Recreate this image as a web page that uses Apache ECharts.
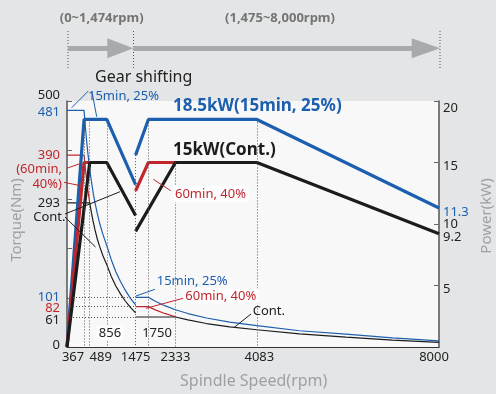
<!DOCTYPE html>
<html>
<head>
<meta charset="utf-8">
<script src="https://cdn.jsdelivr.net/npm/echarts@6.0.0/dist/echarts.min.js"></script>
<style>
html, body { margin: 0; padding: 0; background: #e4e5e6; }
#chart { width: 496px; height: 394px; }
</style>
</head>
<body>
<div id="chart"></div>
<script>
// axis ticks / labels
const speedTicks = [367, 489, 1475, 2333, 4083, 8000];
const torqueTicks = [0, 61, 82, 101, 293, 390, 481, 500];
const torqueMinorTicks = [100, 200, 300, 400, 500];
const powerTicks = [5, 9.2, 10, 11.3, 15, 20];
const powerMinorTicks = [5, 10, 15, 20];

// guide lines (rpm, top power in kW)
const guideRpm = [367, 489, 856, 1475, 1750, 2333, 4083];
const guideTop = [18.5, 18.5, 18.5, 15.6, 18.5, 15, 18.5];
const torqueGuides = [101, 82, 61];

// power (kW) - low gear / high gear
const pow15Low = [[0, 0], [367, 18.5], [856, 18.5], [1475, 13.2]];
const pow15High = [[1475, 15.6], [1750, 18.5], [4083, 18.5], [8000, 11.3]];
const pow60Low = [[0, 0], [367, 15], [856, 15]];
const pow60High = [[1475, 12.7], [1750, 15], [2333, 15]];
const powContLow = [[0, 0], [489, 15], [856, 15], [1475, 10.7]];
const powContHigh = [[1475, 9.4], [2333, 15], [4083, 15], [8000, 9.2]];

// torque (Nm) - low gear / high gear
const tq15Low = [[0, 481], [367, 481], [380, 465], [400, 442], [425, 416], [450, 393], [489, 361],
    [525, 336], [560, 315], [600, 294], [650, 272], [700, 252], [775, 228], [856, 206],
    [950, 178], [1050, 153], [1150, 133], [1250, 116], [1350, 101], [1475, 85.5]];
const tq15High = [[1475, 101], [1750, 101], [1900, 93], [2100, 84], [2333, 75.7], [2600, 68],
    [3000, 59], [3500, 50.5], [4083, 43.3], [5000, 33], [6000, 26], [7000, 18.5], [8000, 12.5]];
const tq60Low = [[0, 390], [367, 390], [380, 377], [400, 358], [425, 337], [450, 318], [489, 293]];
const tq60High = [[1475, 82], [1750, 82], [1900, 75.4], [2100, 68.2], [2333, 61.4]];
const tqContLow = [[0, 293], [489, 293], [525, 273], [560, 256], [600, 239], [650, 220], [700, 205],
    [775, 185], [856, 167], [950, 144], [1050, 124], [1150, 108], [1250, 94], [1350, 82], [1475, 69.3]];
const tqContHigh = [[1475, 61], [2333, 61], [2600, 55.1], [3000, 47.7], [3500, 40.9], [4083, 35.1],
    [5000, 26.5], [6000, 20], [7000, 14], [8000, 9.5]];

const FONT = '"Noto Sans"';
const BLUE = '#1c5fae';
const RED = '#c0272d';
const BLACK = '#1c1c1c';
const TXT = '#222';
const AXNAME = '#9ca1a6';

const chart = echarts.init(document.getElementById('chart'));

const thin = (data, color, yi) => ({
    type: 'line', data: data, yAxisIndex: yi, symbol: 'none', silent: true, z: 2,
    lineStyle: { color: color, width: 1.2 }
});
const thick = (data, color) => ({
    type: 'line', data: data, yAxisIndex: 1, symbol: 'none', silent: true, z: 3,
    lineStyle: { color: color, width: 3.2, cap: 'butt' }
});

const dotted = { color: '#555', width: 1, type: [1, 2] };

const text = (t, x, y, opts) => Object.assign({
    type: 'text', silent: true, z: 10,
    style: Object.assign({ text: t, x: x, y: y, font: '13px ' + FONT, fill: TXT, align: 'left', verticalAlign: 'middle' }, opts || {})
});
const leader = (x1, y1, x2, y2, color) => ({
    type: 'line', silent: true, z: 10,
    shape: { x1: x1, y1: y1, x2: x2, y2: y2 },
    style: { stroke: color, lineWidth: 1 }
});
const vdot = (x, y1, y2) => ({
    type: 'line', silent: true, shape: { x1: x, y1: y1, x2: x, y2: y2 },
    style: { stroke: '#555', lineWidth: 1, lineDash: [1, 2] }
});
const arrow = (x0, xh, xt) => ([
    { type: 'rect', silent: true, shape: { x: x0, y: 46, width: xh - x0 + 2, height: 5 }, style: { fill: '#a9aaac' } },
    { type: 'polygon', silent: true, shape: { points: [[xh, 38.3], [xt, 48.3], [xh, 58.3]] }, style: { fill: '#a9aaac' } }
]);

const torqueColor = { 481: BLUE, 390: RED, 101: BLUE, 82: RED };
const torquePad = { 500: [0, 0, 12, 0], 481: [4, 0, 0, 0], 82: [4, 0, 0, 0], 61: [6, 0, 0, 0], 0: [0, 0, 4, 0] };
const torqueRich = {};
torqueTicks.forEach(v => {
    torqueRich['t' + v] = { color: torqueColor[v] || TXT, padding: torquePad[v] || [0, 0, 0, 0], fontSize: 13, fontFamily: FONT };
});

const powerPad = { 20: [14, 0, 0, 0], 15: [8, 0, 0, 0], 11.3: [8, 0, 0, 0], 10: [0, 0, 0, 0], 9.2: [6, 0, 0, 0], 5: [7, 0, 0, 0] };
const powerRich = {};
powerTicks.forEach(v => {
    powerRich['p' + String(v).replace('.', '_')] = { color: v === 11.3 ? BLUE : TXT, padding: powerPad[v], fontSize: 13, fontFamily: FONT };
});

const speedPad = { 367: [0, 22, 0, 0], 489: [0, 0, 0, 22], 4083: [0, 0, 0, 5], 8000: [0, 10, 0, 0] };
const speedRich = {};
speedTicks.forEach(v => {
    speedRich['s' + v] = { color: TXT, padding: speedPad[v] || [0, 0, 0, 0], fontSize: 13, fontFamily: FONT };
});

const option = {
    backgroundColor: '#e4e5e6',
    animation: false,
    grid: { left: 67, right: 57, top: 101, bottom: 47, show: true, backgroundColor: '#f8f8f8', borderWidth: 0 },
    xAxis: {
        type: 'value', min: 0, max: 8000,
        axisLine: { lineStyle: { color: '#333', width: 1 } },
        axisTick: { show: false },
        splitLine: { show: false },
        axisLabel: {
            customValues: speedTicks, margin: 4, fontSize: 13, fontFamily: FONT, color: TXT,
            formatter: v => '{s' + v + '|' + v + '}', rich: speedRich
        }
    },
    yAxis: [
        {
            type: 'value', min: 0, max: 500, position: 'left',
            axisLine: { show: true, lineStyle: { color: '#555', width: 1.5 } },
            axisTick: { show: true, inside: true, length: 5, customValues: torqueMinorTicks, lineStyle: { color: '#666' } },
            splitLine: { show: false },
            axisLabel: {
                customValues: torqueTicks, margin: 7, fontSize: 13, fontFamily: FONT, color: TXT,
                formatter: v => '{t' + v + '|' + v + '}', rich: torqueRich
            }
        },
        {
            type: 'value', min: 0, max: 20, position: 'right',
            axisLine: { show: true, lineStyle: { color: '#555', width: 1.5 } },
            axisTick: { show: true, inside: true, length: 5, customValues: powerMinorTicks, lineStyle: { color: '#666' } },
            splitLine: { show: false },
            axisLabel: {
                customValues: powerTicks, margin: 4, fontSize: 13, fontFamily: FONT, color: TXT,
                formatter: v => '{p' + String(v).replace('.', '_') + '|' + v + '}', rich: powerRich
            }
        }
    ],
    series: [
        {
            // guide lines only
            type: 'line', data: [], yAxisIndex: 1, symbol: 'none', silent: true, z: 1,
            markLine: {
                silent: true, symbol: 'none', label: { show: false }, lineStyle: dotted,
                data: guideRpm.map((r, i) => [{ coord: [r, guideTop[i]] }, { coord: [r, 0] }])
            }
        },
        {
            type: 'line', data: [], yAxisIndex: 0, symbol: 'none', silent: true, z: 1,
            markLine: {
                silent: true, symbol: 'none', label: { show: false }, lineStyle: dotted,
                data: torqueGuides.map(t => [{ coord: [0, t] }, { coord: [1475, t] }])
            }
        },
        thin(tq60Low, RED, 0),
        thin(tq60High, RED, 0),
        thin(tq15Low, BLUE, 0),
        thin(tq15High, BLUE, 0),
        thin(tqContLow, BLACK, 0),
        thin(tqContHigh, BLACK, 0),
        thick(pow15Low, BLUE),
        thick(pow15High, BLUE),
        thick(pow60Low, RED),
        thick(pow60High, RED),
        thick(powContLow, BLACK),
        thick(powContHigh, BLACK)
    ],
    graphic: [
        // speed range header
        text('(0~1,474rpm)', 101.7, 18, { font: 'bold 13px ' + FONT, fill: '#747474', align: 'center' }),
        text('(1,475~8,000rpm)', 280, 18, { font: 'bold 13px ' + FONT, fill: '#747474', align: 'center' }),
        vdot(68, 31, 68), vdot(133.5, 31, 68), vdot(440, 31, 68),
        ...arrow(68, 107.3, 133.3),
        ...arrow(133.3, 411.7, 440),
        text('Gear shifting', 95, 77, { font: '16px ' + FONT, fill: '#222' }),

        // axis names
        { type: 'text', silent: true, x: 17, y: 220, rotation: Math.PI / 2,
          style: { text: 'Torque(Nm)', x: 0, y: 0, font: '15px ' + FONT, fill: AXNAME, align: 'center', verticalAlign: 'middle' } },
        { type: 'text', silent: true, x: 487, y: 216, rotation: Math.PI / 2,
          style: { text: 'Power(kW)', x: 0, y: 0, font: '15px ' + FONT, fill: AXNAME, align: 'center', verticalAlign: 'middle' } },
        text('Spindle Speed(rpm)', 253.7, 381.5, { font: '16px ' + FONT, fill: AXNAME, align: 'center' }),

        // left side notes
        text('(60min,', 62, 169.3, { fill: RED, align: 'right' }),
        text('40%)', 62, 184.3, { fill: RED, align: 'right' }),
        text('Cont.', 65.5, 217.3, { fill: TXT, align: 'right' }),
        leader(66.7, 168.3, 79, 164, RED),
        leader(64, 182.3, 80.5, 185.7, RED),
        leader(65, 214, 120, 191.7, BLACK),
        leader(65, 217, 95.5, 247, BLACK),

        // top 15min note
        text('15min, 25%', 88, 96, { fill: BLUE }),
        leader(88.3, 91, 71.7, 107.7, BLUE),
        leader(92, 92, 96.7, 116.7, BLUE),

        // power curve titles
        text('18.5kW(15min, 25%)', 173, 105.7, { font: 'bold 17px ' + FONT, fill: BLUE }),
        text('15kW(Cont.)', 173, 150, { font: 'bold 17px ' + FONT, fill: BLACK }),
        text('60min, 40%', 173, 194, { fill: RED, backgroundColor: '#fdfdfd', padding: [2, 3, 2, 2] }),
        leader(153.3, 179.3, 170.7, 190.7, RED),

        // torque curve notes
        text('15min, 25%', 156.7, 281, { fill: BLUE }),
        leader(136, 296, 155, 289.3, BLUE),
        text('60min, 40%', 183.3, 296, { fill: RED, backgroundColor: '#fdfdfd', padding: [1, 2, 1, 2] }),
        leader(146, 308.3, 183, 298.3, RED),
        text('Cont.', 252.7, 311.7, { fill: TXT }),
        leader(234.3, 327.3, 251, 314, BLACK),

        // speed notes
        text('856', 110, 333, { fill: TXT, align: 'center', backgroundColor: '#fdfdfd', padding: [1, 2, 1, 2] }),
        text('1750', 157, 333, { fill: TXT, align: 'center' })
    ]
};

chart.setOption(option);
</script>
</body>
</html>
